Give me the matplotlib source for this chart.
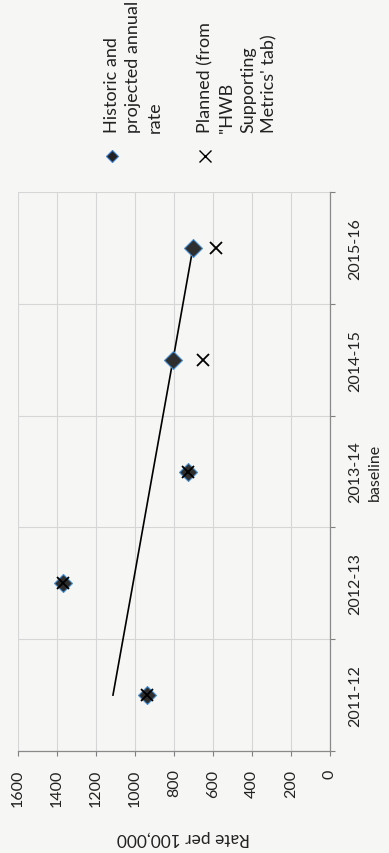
import matplotlib
matplotlib.use('Agg')
import matplotlib.pyplot as plt
from matplotlib.lines import Line2D
import numpy as np

# ---- data ----
categories = ['2011-12', '2012-13', '2013-14\nbaseline', '2014-15', '2015-16']
historic = [938, 1369, 728, 805, 703]          # Historic and projected annual rate
planned = [938, 1369, 728, 651, 585]           # Planned (from 'HWB Supporting Metrics' tab)
trend = [1113, 1010, 908, 805, 703]            # trend line
rate_ticks = [0, 200, 400, 600, 800, 1000, 1200, 1400, 1600]
legend_labels = ['Historic and\nprojected annual\nrate',
                 "Planned (from\n''HWB\nSupporting\nMetrics' tab)"]

plt.rcParams['font.family'] = ['Lato', 'DejaVu Sans']
W, H = 389, 854
bg = '#f6f6f4'
txt = '#222222'

fig = plt.figure(figsize=(W / 100, H / 100), dpi=100)
fig.patch.set_facecolor(bg)

ax = fig.add_axes([18 / W, 102 / H, 312 / W, 559 / H])
ax.set_facecolor(bg)
pos = np.arange(len(categories))

ax.plot(trend, pos, color='black', lw=1.2, zorder=3)
ax.plot(historic, pos, ls='none', marker='D', ms=9.5, mfc='#2e2e2e',
        mec='#4a8fd0', mew=0.8, zorder=4)
ax.plot(planned, pos, ls='none', marker='x', ms=9, mec='black', mew=1.3, zorder=5)

ax.set_xlim(1600, 0)
ax.set_ylim(-0.5, 4.5)

ax.set_xticks(rate_ticks)
ax.set_xticklabels([str(t) for t in rate_ticks], rotation=90, ha='center', va='top')
ax.tick_params(axis='x', direction='out', length=3.6, width=0.8, color='#808080',
               pad=9, labelsize=11.5, labelcolor=txt)

ax.yaxis.tick_right()
ax.set_yticks(pos)
ylabels = ax.set_yticklabels(categories, rotation=90, va='center', ha='left',
                             multialignment='center')
for lab in ylabels:
    lab.set_linespacing(1.55)
ax.set_yticks(np.arange(-0.5, len(categories)), minor=True)
ax.tick_params(axis='y', which='major', length=0, pad=13, labelsize=11.5, labelcolor=txt)
ax.tick_params(axis='y', which='minor', length=3.6, width=0.8, color='#808080')

ax.grid(axis='x', which='major', color='#d6d6d6', lw=0.8)
ax.grid(axis='y', which='minor', color='#d6d6d6', lw=0.8)
ax.set_axisbelow(True)

for s in ['left', 'top']:
    ax.spines[s].set_visible(False)
for s in ['right', 'bottom']:
    ax.spines[s].set_color('#8a8a8a')
    ax.spines[s].set_linewidth(0.9)

fig.text(183 / W, 1 - 838 / H, 'Rate per 100,000', rotation=180, ha='center',
         va='center', fontsize=12.5, color=txt)

# legend (rotated)
fig.add_artist(Line2D([112 / W], [1 - 157 / H], marker='D', ms=6, mfc='#222222',
                      mec='#3a7fd0', mew=0.8, ls='none', transform=fig.transFigure))
fig.add_artist(Line2D([205 / W], [1 - 157 / H], marker='x', ms=9, mec='black',
                      mew=1.0, ls='none', transform=fig.transFigure))
fig.text(104 / W, 1 - 133 / H, legend_labels[0], rotation=90, ha='left', va='bottom',
         multialignment='left', fontsize=13, color=txt, linespacing=1.42)
fig.text(197 / W, 1 - 133 / H, legend_labels[1], rotation=90, ha='left', va='bottom',
         multialignment='left', fontsize=13, color=txt, linespacing=1.42)

fig.savefig('out.png', dpi=100, facecolor=bg)
